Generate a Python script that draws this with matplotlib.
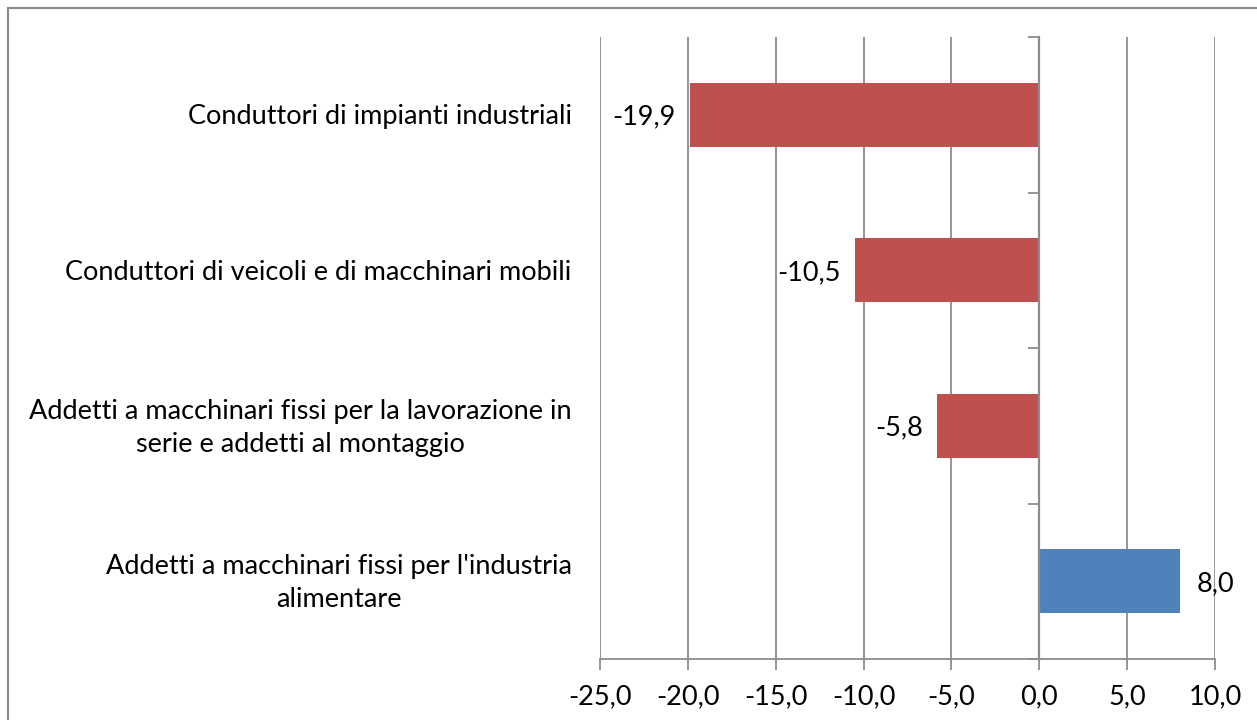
import matplotlib.pyplot as plt
import matplotlib.transforms as mtransforms
from matplotlib.patches import Rectangle

categorie = ["Conduttori di impianti industriali",
             "Conduttori di veicoli e di macchinari mobili",
             "Addetti a macchinari fissi per la lavorazione in\nserie e addetti al montaggio",
             "Addetti a macchinari fissi per l'industria\nalimentare"]
valori = [-19.9, -10.5, -5.8, 8.0]
xticks = [-25, -20, -15, -10, -5, 0, 5, 10]

rosso = '#C0504D'
blu = '#4F81BD'
grigio = '#8C8C8C'
fs = 19.5

plt.rcParams['font.family'] = ['Lato', 'DejaVu Sans']

fig = plt.figure(figsize=(12.57, 7.2), dpi=100)
ax = fig.add_axes([600 / 1257, 1 - 659 / 720, 615 / 1257, 622 / 720])

pos = list(range(len(categorie)))
colori = [rosso if v < 0 else blu for v in valori]
ax.barh(pos, valori, height=0.41, color=colori, zorder=2)

ax.set_xlim(-25, 10)
ax.set_ylim(3.5, -0.5)
ax.set_xticks(xticks)
ax.set_xticklabels([f'{t:.1f}'.replace('.', ',') for t in xticks], fontsize=fs)
ax.xaxis.grid(True, color=grigio, lw=1.3, zorder=0)
ax.tick_params(axis='x', length=8, width=1.3, color=grigio, pad=10)

# asse verticale sullo zero, tacche tra le categorie
ax.spines['left'].set_position(('data', 0))
ax.spines['left'].set_color(grigio)
ax.spines['left'].set_linewidth(1.6)
ax.spines['bottom'].set_color(grigio)
ax.spines['bottom'].set_linewidth(1.3)
ax.spines['top'].set_visible(False)
ax.spines['right'].set_visible(False)
ax.set_yticks([-0.5, 0.5, 1.5, 2.5, 3.5])
ax.set_yticklabels([])
ax.tick_params(axis='y', length=8, width=1.3, color=grigio)

trans = mtransforms.blended_transform_factory(ax.transAxes, ax.transData)
for p, c in zip(pos, categorie):
    ax.annotate(c, (-0.046, p), xycoords=trans, xytext=(0, -1.5),
                textcoords='offset points', ha='right', va='center',
                multialignment='center', fontsize=fs, linespacing=1.4)

for p, v in zip(pos, valori):
    lab = f'{v:.1f}'.replace('.', ',')
    if v < 0:
        ax.annotate(lab, (v, p), xytext=(-10, -1.5), textcoords='offset points',
                    ha='right', va='center', fontsize=fs)
    else:
        ax.annotate(lab, (v, p), xytext=(12, -1.5), textcoords='offset points',
                    ha='left', va='center', fontsize=fs)

fig.patches.append(Rectangle((8 / 1257, -0.05), 1.1, 1 - 8 / 720 + 0.05,
                             transform=fig.transFigure, fill=False,
                             edgecolor='#8A8A8A', lw=1.5))

fig.savefig('out.png', dpi=100)
